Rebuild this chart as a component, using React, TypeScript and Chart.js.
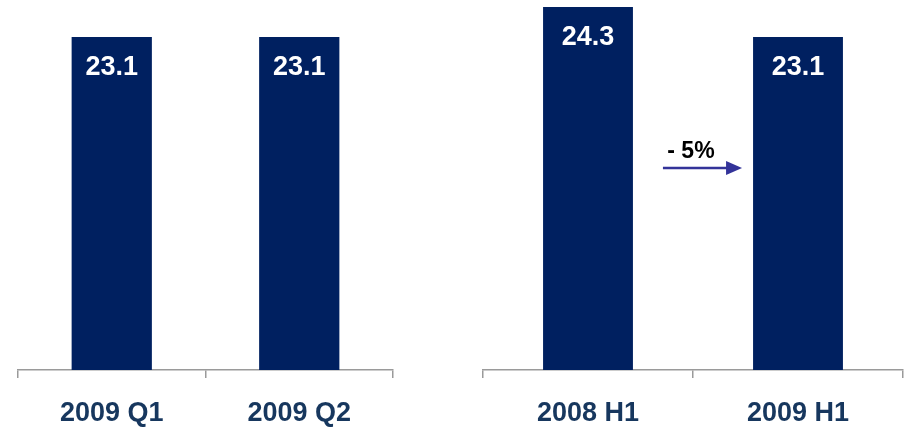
import React, { useEffect, useRef } from "react";
import { Chart, registerables } from "chart.js";

Chart.register(...registerables);

// ---- Data ----
const quarterCategories = ["2009 Q1", "2009 Q2"];
const quarterValues = [23.1, 23.1];
const halfCategories = ["2008 H1", "2009 H1"];
const halfValues = [24.3, 23.1];
const changeLabel = "- 5%";
const axisMin = 9.8;
const axisMax = 24.3;

// ---- Styles ----
const BAR_COLOR = "#002060";
const AXIS_TEXT = "#17375E";
const AXIS_LINE = "#9a9a9a";
const ARROW_COLOR = "#333399";
const FONT = "'Liberation Sans', Arial, Helvetica, sans-serif";

const valueLabelsPlugin = {
  id: "valueLabels",
  afterDatasetsDraw(chart: any) {
    const ctx = chart.ctx;
    const meta = chart.getDatasetMeta(0);
    const data = chart.data.datasets[0].data as number[];
    ctx.save();
    ctx.fillStyle = "#ffffff";
    ctx.font = `bold 27px ${FONT}`;
    ctx.textAlign = "center";
    ctx.textBaseline = "alphabetic";
    meta.data.forEach((bar: any, i: number) => {
      ctx.fillText(Number(data[i]).toFixed(1), bar.x, bar.y + 38);
    });
    ctx.restore();
  },
};

const changeArrowPlugin = {
  id: "changeArrow",
  afterDatasetsDraw(chart: any) {
    const ctx = chart.ctx;
    const meta = chart.getDatasetMeta(0);
    const b0: any = meta.data[0];
    const b1: any = meta.data[1];
    if (!b0 || !b1) return;
    const x0 = b0.x + b0.width / 2 + 30;
    const x1 = b1.x - b1.width / 2 - 11;
    const y = chart.chartArea.top + 161;
    ctx.save();
    ctx.strokeStyle = ARROW_COLOR;
    ctx.fillStyle = ARROW_COLOR;
    ctx.lineWidth = 2.5;
    ctx.beginPath();
    ctx.moveTo(x0, y);
    ctx.lineTo(x1 - 14, y);
    ctx.stroke();
    ctx.beginPath();
    ctx.moveTo(x1, y);
    ctx.lineTo(x1 - 16, y - 7);
    ctx.lineTo(x1 - 16, y + 7);
    ctx.closePath();
    ctx.fill();
    ctx.fillStyle = "#000000";
    ctx.font = `bold 23px ${FONT}`;
    ctx.textAlign = "center";
    ctx.textBaseline = "alphabetic";
    ctx.fillText(changeLabel, x0 + 28, chart.chartArea.top + 151);
    ctx.restore();
  },
};

type PanelProps = {
  labels: string[];
  values: number[];
  left: number;
  width: number;
  padLeft: number;
  padRight: number;
  plugins: any[];
};

function BarPanel({ labels, values, left, width, padLeft, padRight, plugins }: PanelProps) {
  const ref = useRef<HTMLCanvasElement | null>(null);
  useEffect(() => {
    if (!ref.current) return;
    const chart = new Chart(ref.current, {
      type: "bar",
      data: {
        labels,
        datasets: [
          {
            data: values,
            backgroundColor: BAR_COLOR,
            borderWidth: 0,
            barPercentage: 0.428,
            categoryPercentage: 1,
          },
        ],
      },
      options: {
        responsive: false,
        animation: false,
        devicePixelRatio: 1,
        layout: { padding: { top: 7, left: padLeft, right: padRight, bottom: 0 } },
        plugins: {
          legend: { display: false },
          tooltip: { enabled: false },
          title: { display: false },
        },
        scales: {
          y: {
            display: false,
            min: axisMin,
            max: axisMax,
          },
          x: {
            offset: true,
            afterFit: (scale: any) => {
              scale.height = 57;
            },
            border: { display: true, color: AXIS_LINE, width: 1.5 },
            grid: {
              display: true,
              offset: true,
              drawOnChartArea: false,
              drawTicks: true,
              tickLength: 8,
              color: AXIS_LINE,
              lineWidth: 1.5,
            },
            ticks: {
              color: AXIS_TEXT,
              font: { family: FONT, size: 27, weight: "bold" },
              padding: 19,
              maxRotation: 0,
              autoSkip: false,
            },
          },
        },
      },
      plugins,
    } as any);
    return () => chart.destroy();
  }, []);
  return (
    <canvas
      ref={ref}
      width={width}
      height={427}
      style={{ position: "absolute", left, top: 0, width, height: 427 }}
    />
  );
}

export default function App() {
  useEffect(() => {
    document.body.style.margin = "0";
  }, []);
  return (
    <div style={{ position: "relative", width: 904, height: 427, overflow: "hidden", background: "#fff" }}>
      <BarPanel
        labels={quarterCategories}
        values={quarterValues}
        left={0}
        width={452}
        padLeft={18}
        padRight={59}
        plugins={[valueLabelsPlugin]}
      />
      <BarPanel
        labels={halfCategories}
        values={halfValues}
        left={452}
        width={452}
        padLeft={31}
        padRight={1}
        plugins={[valueLabelsPlugin, changeArrowPlugin]}
      />
    </div>
  );
}
